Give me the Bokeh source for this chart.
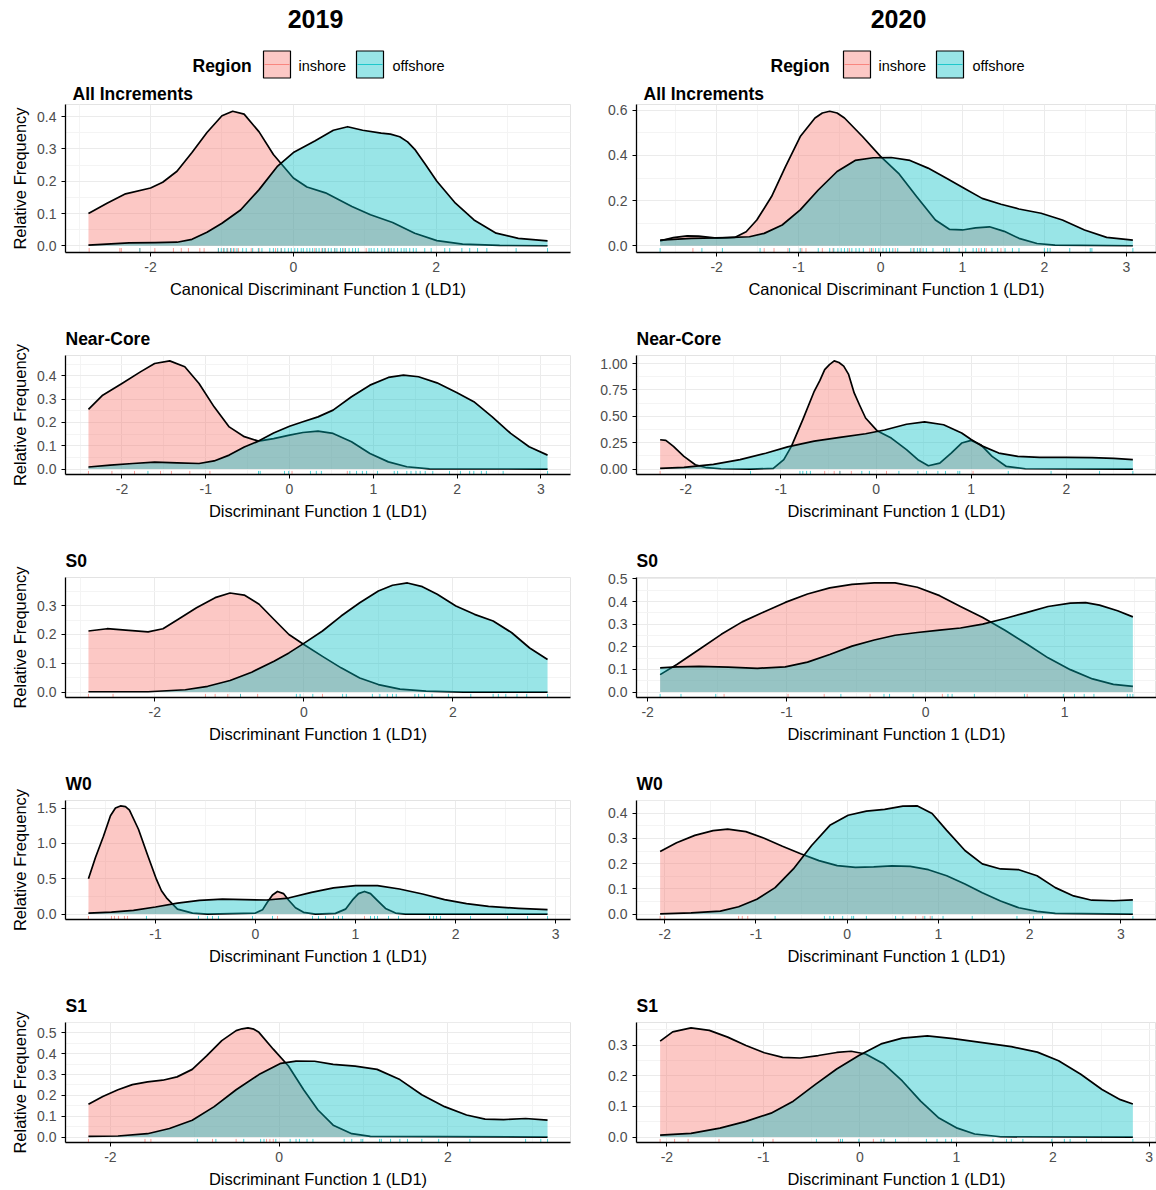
from bokeh.plotting import figure
from bokeh.layouts import column, row
from bokeh.models import Range1d, FixedTicker
from bokeh.core.properties import value
from bokeh.embed import file_html
from bokeh.resources import INLINE

# ---------------- text ----------------
YEARS = ["2019", "2020"]
REGIONS = ["inshore", "offshore"]
LEGEND_TITLE = "Region"
Y_LABEL = "Relative Frequency"
X_LABEL_ALL = "Canonical Discriminant Function 1 (LD1)"
X_LABEL = "Discriminant Function 1 (LD1)"
PANEL_TITLES = ["All Increments", "Near-Core", "S0", "W0", "S1"]

# ---------------- 2019 : All Increments ----------------
ALL19_IN_X = [-2.87, -2.61, -2.35, -2.0, -1.83, -1.63, -1.42, -1.21, -1.0, -0.85, -0.69, -0.48, -0.28, 0.0, 0.19, 0.45, 0.82, 1.08, 1.39, 1.70, 2.01, 2.37, 2.89, 3.56]
ALL19_IN_Y = [0.10, 0.132, 0.161, 0.179, 0.197, 0.231, 0.289, 0.351, 0.403, 0.417, 0.408, 0.353, 0.283, 0.21, 0.182, 0.164, 0.122, 0.096, 0.072, 0.039, 0.016, 0.005, 0.001, 0.0]
ALL19_OFF_X = [-2.87, -2.30, -1.94, -1.63, -1.42, -1.21, -1.0, -0.74, -0.48, -0.22, 0.0, 0.30, 0.56, 0.76, 0.97, 1.23, 1.36, 1.49, 1.60, 1.70, 1.85, 2.01, 2.27, 2.53, 2.84, 3.15, 3.56]
ALL19_OFF_Y = [0.002, 0.009, 0.010, 0.011, 0.02, 0.042, 0.07, 0.111, 0.174, 0.247, 0.289, 0.325, 0.358, 0.369, 0.358, 0.349, 0.346, 0.338, 0.322, 0.299, 0.252, 0.2, 0.132, 0.08, 0.039, 0.023, 0.015]
ALL19_RUG_IN = [-2.86, -2.43, -2.41, -2.15, -1.94, -1.68, -1.57, -1.47, -1.31, -1.25, -1.05, -0.98, -0.92, -0.87, -0.82, -0.77, -0.59, -0.48, -0.25, -0.17, 0.30, 0.40, 0.45, 0.58, 0.71, 1.02, 1.34]
ALL19_RUG_OFF = [-2.15, -1.05, -1.01, -0.97, -0.93, -0.88, -0.84, -0.79, -0.71, -0.66, -0.57, -0.49, -0.44, -0.33, -0.28, -0.22, -0.17, -0.12, -0.07, -0.03, 0.02, 0.06, 0.11, 0.14, 0.19, 0.23, 0.27, 0.32, 0.36, 0.41, 0.44, 0.49, 0.53, 0.58, 0.61, 0.66, 0.69, 0.73, 0.78, 0.83, 0.87, 0.91, 1.06, 1.09, 1.13, 1.18, 1.24, 1.28, 1.33, 1.37, 1.41, 1.46, 1.51, 1.55, 1.58, 1.63, 1.68, 1.72, 1.84, 1.93, 2.12, 2.19, 2.36, 2.47, 2.58, 2.71, 3.12, 3.56]
ALL19_XTICKS = [-2, 0, 2]
ALL19_XLABELS = ["-2", "0", "2"]
ALL19_YTICKS = [0.0, 0.1, 0.2, 0.3, 0.4]
ALL19_YLABELS = ["0.0", "0.1", "0.2", "0.3", "0.4"]

# ---------------- 2020 : All Increments ----------------
ALL20_IN_X = [-2.69, -2.53, -2.36, -2.22, -2.0, -1.78, -1.64, -1.51, -1.33, -1.16, -0.98, -0.80, -0.71, -0.62, -0.53, -0.44, -0.22, 0.0, 0.22, 0.44, 0.67, 0.84, 1.0, 1.16, 1.33, 1.51, 1.69, 1.91, 2.13, 3.08]
ALL20_IN_Y = [0.022, 0.036, 0.044, 0.043, 0.034, 0.037, 0.062, 0.114, 0.218, 0.351, 0.484, 0.566, 0.588, 0.596, 0.588, 0.566, 0.484, 0.396, 0.321, 0.218, 0.114, 0.073, 0.07, 0.079, 0.084, 0.064, 0.033, 0.010, 0.003, 0.0]
ALL20_OFF_X = [-2.69, -2.31, -1.87, -1.6, -1.42, -1.2, -0.98, -0.76, -0.53, -0.31, -0.09, 0.13, 0.36, 0.58, 0.8, 1.02, 1.24, 1.47, 1.69, 1.96, 2.22, 2.49, 2.76, 3.08]
ALL20_OFF_Y = [0.025, 0.033, 0.036, 0.04, 0.055, 0.092, 0.159, 0.247, 0.329, 0.378, 0.39, 0.391, 0.378, 0.344, 0.3, 0.255, 0.21, 0.184, 0.163, 0.144, 0.114, 0.07, 0.037, 0.025]
ALL20_RUG_IN = [-2.29, -1.42, -1.30, -1.13, -0.96, -0.91, -0.71, -0.58, -0.38, -0.13, -0.09, 0.18, 0.40, 0.49, 0.80, 1.20, 1.29, 1.47]
ALL20_RUG_OFF = [-2.69, -2.18, -1.93, -1.47, -1.11, -0.98, -0.76, -0.62, -0.57, -0.52, -0.48, -0.44, -0.40, -0.35, -0.30, -0.26, -0.21, -0.11, -0.06, -0.02, 0.03, 0.07, 0.11, 0.15, 0.21, 0.37, 0.41, 0.45, 0.48, 0.52, 0.56, 0.64, 0.77, 0.81, 0.84, 0.96, 1.04, 1.13, 1.17, 1.23, 1.27, 1.36, 1.43, 1.52, 1.61, 1.69, 2.0, 2.04, 2.07, 2.31, 2.56, 2.58, 3.08]
ALL20_XTICKS = [-2, -1, 0, 1, 2, 3]
ALL20_XLABELS = ["-2", "-1", "0", "1", "2", "3"]
ALL20_YTICKS = [0.0, 0.2, 0.4, 0.6]
ALL20_YLABELS = ["0.0", "0.2", "0.4", "0.6"]

# ---------------- 2019 : Near-Core ----------------
NC19_IN_X = [-2.40, -2.23, -2.0, -1.78, -1.61, -1.43, -1.25, -1.08, -0.90, -0.72, -0.54, -0.37, -0.19, 0.0, 0.16, 0.34, 0.52, 0.74, 0.96, 1.18, 1.40, 1.67, 3.08]
NC19_IN_Y = [0.256, 0.317, 0.367, 0.417, 0.453, 0.464, 0.439, 0.367, 0.267, 0.181, 0.139, 0.12, 0.131, 0.146, 0.157, 0.163, 0.153, 0.117, 0.067, 0.031, 0.01, 0.001, 0.0]
NC19_OFF_X = [-2.40, -2.14, -1.87, -1.61, -1.34, -1.08, -0.90, -0.72, -0.54, -0.37, -0.19, 0.0, 0.16, 0.34, 0.52, 0.74, 0.96, 1.18, 1.36, 1.54, 1.76, 2.0, 2.2, 2.42, 2.64, 2.86, 3.08]
NC19_OFF_Y = [0.009, 0.017, 0.024, 0.03, 0.027, 0.024, 0.035, 0.06, 0.095, 0.12, 0.155, 0.184, 0.203, 0.224, 0.253, 0.31, 0.36, 0.393, 0.403, 0.396, 0.37, 0.327, 0.289, 0.224, 0.153, 0.096, 0.06]
NC19_RUG_IN = [-2.40, -2.12, -1.85, -1.54, -1.41, -1.19, -0.95, 0.03, 0.69]
NC19_RUG_OFF = [-1.69, -0.37, -0.35, -0.06, -0.01, 0.25, 0.32, 0.38, 0.72, 0.80, 0.87, 0.92, 1.05, 1.25, 1.29, 1.40, 1.45, 1.51, 1.56, 1.62, 1.71, 1.91, 2.04, 2.15, 2.20, 2.29, 2.35, 2.55, 3.08]
NC19_XTICKS = [-2, -1, 0, 1, 2, 3]
NC19_XLABELS = ["-2", "-1", "0", "1", "2", "3"]
NC19_YTICKS = [0.0, 0.1, 0.2, 0.3, 0.4]
NC19_YLABELS = ["0.0", "0.1", "0.2", "0.3", "0.4"]

# ---------------- 2020 : Near-Core ----------------
NC20_IN_X = [-2.27, -2.21, -2.13, -2.02, -1.90, -1.78, -1.63, -1.32, -1.08, -0.97, -0.89, -0.77, -0.65, -0.59, -0.54, -0.49, -0.44, -0.39, -0.34, -0.29, -0.23, -0.17, -0.11, 0.01, 0.16, 0.32, 0.44, 0.55, 0.67, 0.79, 0.90, 1.0, 1.10, 1.22, 1.37, 1.57, 2.70]
NC20_IN_Y = [0.278, 0.272, 0.215, 0.12, 0.041, 0.013, 0.003, 0.0, 0.006, 0.089, 0.215, 0.468, 0.737, 0.84, 0.943, 0.99, 1.025, 1.01, 0.975, 0.90, 0.722, 0.60, 0.484, 0.364, 0.294, 0.184, 0.089, 0.032, 0.057, 0.152, 0.247, 0.272, 0.231, 0.12, 0.025, 0.003, 0.0]
NC20_OFF_X = [-2.27, -2.02, -1.71, -1.43, -1.16, -0.93, -0.65, -0.38, -0.11, 0.09, 0.32, 0.51, 0.71, 0.90, 1.0, 1.10, 1.29, 1.49, 1.72, 2.0, 2.27, 2.50, 2.70]
NC20_OFF_Y = [0.006, 0.016, 0.045, 0.09, 0.15, 0.21, 0.265, 0.30, 0.335, 0.37, 0.425, 0.447, 0.42, 0.342, 0.28, 0.225, 0.152, 0.12, 0.111, 0.111, 0.108, 0.101, 0.089]
NC20_RUG_IN = [-2.27, -0.54, -0.44, -0.38, -0.26, 0.11, 1.02]
NC20_RUG_OFF = [-1.32, -0.80, -0.77, -0.73, -0.69, -0.38, -0.15, -0.07, 0.24, 0.44, 0.53, 0.65, 0.73, 0.86, 0.88, 1.39, 1.84, 2.35, 2.70]
NC20_XTICKS = [-2, -1, 0, 1, 2]
NC20_XLABELS = ["-2", "-1", "0", "1", "2"]
NC20_YTICKS = [0.0, 0.25, 0.5, 0.75, 1.0]
NC20_YLABELS = ["0.00", "0.25", "0.50", "0.75", "1.00"]

# ---------------- 2019 : S0 ----------------
S019_IN_X = [-2.89, -2.64, -2.39, -2.09, -1.89, -1.69, -1.44, -1.19, -0.99, -0.80, -0.60, -0.40, -0.20, 0.0, 0.25, 0.50, 0.75, 1.0, 1.29, 1.64, 2.14, 3.27]
S019_IN_Y = [0.212, 0.22, 0.215, 0.209, 0.22, 0.252, 0.293, 0.328, 0.344, 0.337, 0.305, 0.252, 0.2, 0.165, 0.124, 0.084, 0.049, 0.026, 0.01, 0.003, 0.0, 0.0]
S019_OFF_X = [-2.89, -2.09, -1.59, -1.29, -0.99, -0.70, -0.40, -0.20, 0.0, 0.25, 0.50, 0.75, 1.0, 1.19, 1.39, 1.59, 1.79, 2.04, 2.29, 2.54, 2.79, 3.03, 3.27]
S019_OFF_Y = [0.001, 0.001, 0.008, 0.02, 0.04, 0.069, 0.107, 0.136, 0.169, 0.212, 0.264, 0.31, 0.351, 0.371, 0.379, 0.366, 0.34, 0.299, 0.27, 0.247, 0.206, 0.153, 0.113]
S019_RUG_IN = [-2.89, -2.56, -1.32, -1.19, -1.02, -0.85, -0.62, 0.25]
S019_RUG_OFF = [-0.85, -0.10, -0.05, 0.12, 0.52, 0.57, 0.92, 1.02, 1.12, 1.19, 1.24, 1.49, 1.54, 1.62, 1.72, 1.94, 2.24, 2.54, 2.61, 2.71, 2.86, 2.99, 3.27]
S019_XTICKS = [-2, 0, 2]
S019_XLABELS = ["-2", "0", "2"]
S019_YTICKS = [0.0, 0.1, 0.2, 0.3]
S019_YLABELS = ["0.0", "0.1", "0.2", "0.3"]

# ---------------- 2020 : S0 ----------------
S020_IN_X = [-1.91, -1.79, -1.63, -1.47, -1.32, -1.16, -1.01, -0.85, -0.69, -0.53, -0.37, -0.22, -0.06, 0.10, 0.25, 0.41, 0.57, 0.73, 0.88, 1.04, 1.20, 1.35, 1.49]
S020_IN_Y = [0.077, 0.122, 0.188, 0.255, 0.31, 0.355, 0.396, 0.433, 0.46, 0.476, 0.482, 0.482, 0.463, 0.426, 0.378, 0.329, 0.273, 0.211, 0.151, 0.099, 0.058, 0.034, 0.025]
S020_OFF_X = [-1.91, -1.79, -1.63, -1.42, -1.21, -1.01, -0.85, -0.69, -0.53, -0.37, -0.22, -0.06, 0.10, 0.25, 0.41, 0.57, 0.73, 0.88, 1.04, 1.15, 1.25, 1.38, 1.49]
S020_OFF_Y = [0.107, 0.111, 0.113, 0.11, 0.105, 0.111, 0.132, 0.166, 0.203, 0.23, 0.251, 0.263, 0.274, 0.283, 0.3, 0.325, 0.352, 0.378, 0.393, 0.395, 0.384, 0.359, 0.332]
S020_RUG_IN = [-1.45, -0.99, -0.73, -0.40, 0.12, 0.73]
S020_RUG_OFF = [-1.91, -1.76, -1.51, -0.61, -0.30, -0.26, -0.09, 0.16, 0.19, 0.35, 0.71, 0.99, 1.07, 1.14, 1.21, 1.45, 1.47, 1.49]
S020_XTICKS = [-2, -1, 0, 1]
S020_XLABELS = ["-2", "-1", "0", "1"]
S020_YTICKS = [0.0, 0.1, 0.2, 0.3, 0.4, 0.5]
S020_YLABELS = ["0.0", "0.1", "0.2", "0.3", "0.4", "0.5"]

# ---------------- 2019 : W0 ----------------
W019_IN_X = [-1.67, -1.60, -1.52, -1.45, -1.40, -1.35, -1.30, -1.26, -1.17, -1.08, -0.99, -0.94, -0.89, -0.78, -0.63, -0.48, 0.0, 0.07, 0.12, 0.17, 0.22, 0.28, 0.33, 0.40, 0.48, 0.60, 0.80, 0.90, 0.97, 1.03, 1.09, 1.15, 1.22, 1.30, 1.40, 1.50, 2.92]
W019_IN_Y = [0.50, 0.80, 1.10, 1.39, 1.50, 1.53, 1.52, 1.47, 1.20, 0.84, 0.49, 0.33, 0.23, 0.07, 0.014, 0.0, 0.014, 0.06, 0.17, 0.27, 0.32, 0.29, 0.20, 0.09, 0.025, 0.0, 0.01, 0.07, 0.20, 0.29, 0.32, 0.29, 0.19, 0.08, 0.015, 0.0, 0.0]
W019_OFF_X = [-1.67, -1.44, -1.22, -1.0, -0.78, -0.56, -0.33, -0.11, 0.11, 0.33, 0.56, 0.78, 1.0, 1.22, 1.44, 1.67, 1.89, 2.11, 2.33, 2.63, 2.92]
W019_OFF_Y = [0.014, 0.028, 0.052, 0.1, 0.156, 0.194, 0.213, 0.204, 0.199, 0.227, 0.308, 0.37, 0.403, 0.403, 0.355, 0.284, 0.204, 0.147, 0.109, 0.081, 0.062]
W019_RUG_IN = [-1.67, -1.44, -1.41, -1.37, -1.31, -1.28, 0.22, 1.09]
W019_RUG_OFF = [-1.09, -0.57, -0.48, -0.43, -0.37, -0.03, 0.17, 0.57, 0.63, 0.70, 0.78, 0.83, 0.87, 1.15, 1.19, 1.22, 1.33, 1.43, 1.74, 1.78, 1.81, 1.85, 2.15, 2.52, 2.72, 2.92]
W019_XTICKS = [-1, 0, 1, 2, 3]
W019_XLABELS = ["-1", "0", "1", "2", "3"]
W019_YTICKS = [0.0, 0.5, 1.0, 1.5]
W019_YLABELS = ["0.0", "0.5", "1.0", "1.5"]

# ---------------- 2020 : W0 ----------------
W020_IN_X = [-2.05, -1.87, -1.67, -1.47, -1.31, -1.11, -0.91, -0.71, -0.51, -0.31, -0.11, 0.09, 0.29, 0.49, 0.69, 0.89, 1.09, 1.29, 1.48, 1.68, 1.88, 2.08, 2.28, 3.13]
W020_IN_Y = [0.248, 0.283, 0.312, 0.331, 0.337, 0.327, 0.301, 0.269, 0.239, 0.212, 0.192, 0.185, 0.187, 0.191, 0.189, 0.176, 0.152, 0.119, 0.085, 0.052, 0.025, 0.011, 0.003, 0.0]
W020_OFF_X = [-2.05, -1.71, -1.39, -1.19, -0.99, -0.79, -0.59, -0.39, -0.19, 0.01, 0.21, 0.41, 0.61, 0.77, 0.93, 1.09, 1.29, 1.48, 1.68, 1.88, 2.08, 2.28, 2.48, 2.68, 2.92, 3.13]
W020_OFF_Y = [0.001, 0.005, 0.012, 0.029, 0.059, 0.105, 0.179, 0.272, 0.352, 0.392, 0.408, 0.415, 0.428, 0.429, 0.399, 0.332, 0.252, 0.199, 0.179, 0.176, 0.152, 0.105, 0.072, 0.055, 0.053, 0.056]
W020_RUG_IN = [-2.05, -2.0, -1.19, -1.15, -1.09, 0.75, 0.83, 0.91]
W020_RUG_OFF = [-0.79, -0.25, -0.19, -0.15, -0.05, 0.05, 0.07, 0.21, 0.53, 0.61, 0.85, 0.93, 1.05, 1.37, 1.86, 2.04, 2.14, 3.13]
W020_XTICKS = [-2, -1, 0, 1, 2, 3]
W020_XLABELS = ["-2", "-1", "0", "1", "2", "3"]
W020_YTICKS = [0.0, 0.1, 0.2, 0.3, 0.4]
W020_YLABELS = ["0.0", "0.1", "0.2", "0.3", "0.4"]

# ---------------- 2019 : S1 ----------------
S119_IN_X = [-2.26, -2.09, -1.91, -1.74, -1.56, -1.38, -1.21, -1.03, -0.86, -0.68, -0.51, -0.44, -0.37, -0.30, -0.24, -0.07, 0.11, 0.29, 0.46, 0.64, 0.86, 1.08, 3.18]
S119_IN_Y = [0.157, 0.195, 0.227, 0.252, 0.265, 0.273, 0.289, 0.325, 0.39, 0.463, 0.511, 0.52, 0.524, 0.518, 0.503, 0.422, 0.341, 0.227, 0.13, 0.057, 0.016, 0.003, 0.0]
S119_OFF_X = [-2.26, -1.91, -1.56, -1.30, -1.03, -0.77, -0.51, -0.24, 0.02, 0.20, 0.42, 0.64, 0.90, 1.16, 1.43, 1.69, 1.96, 2.22, 2.44, 2.66, 2.92, 3.18]
S119_OFF_Y = [0.003, 0.005, 0.016, 0.041, 0.081, 0.146, 0.227, 0.3, 0.354, 0.365, 0.364, 0.349, 0.341, 0.325, 0.276, 0.203, 0.146, 0.106, 0.086, 0.084, 0.089, 0.081]
S119_RUG_IN = [-2.26, -1.59, -1.52, -0.79, -0.51, -0.15, -0.11, -0.07]
S119_RUG_OFF = [-0.97, -0.75, -0.42, -0.22, -0.18, -0.04, 0.13, 0.20, 0.24, 0.33, 0.40, 0.77, 0.86, 0.97, 0.99, 1.19, 1.21, 1.32, 1.43, 1.52, 1.69, 1.89, 2.26, 2.92, 3.10, 3.18]
S119_XTICKS = [-2, 0, 2]
S119_XLABELS = ["-2", "0", "2"]
S119_YTICKS = [0.0, 0.1, 0.2, 0.3, 0.4, 0.5]
S119_YLABELS = ["0.0", "0.1", "0.2", "0.3", "0.4", "0.5"]

# ---------------- 2020 : S1 ----------------
S120_IN_X = [-2.07, -1.94, -1.75, -1.56, -1.37, -1.18, -0.99, -0.80, -0.62, -0.43, -0.24, -0.09, 0.06, 0.25, 0.44, 0.63, 0.82, 1.01, 1.19, 1.46, 2.83]
S120_IN_Y = [0.313, 0.343, 0.356, 0.348, 0.326, 0.299, 0.275, 0.26, 0.258, 0.266, 0.276, 0.28, 0.271, 0.238, 0.183, 0.117, 0.062, 0.029, 0.01, 0.001, 0.0]
S120_OFF_X = [-2.07, -1.75, -1.45, -1.18, -0.92, -0.69, -0.46, -0.24, -0.01, 0.22, 0.44, 0.70, 0.97, 1.27, 1.57, 1.84, 2.06, 2.29, 2.51, 2.70, 2.83]
S120_OFF_Y = [0.006, 0.012, 0.029, 0.051, 0.078, 0.117, 0.172, 0.222, 0.266, 0.304, 0.323, 0.33, 0.321, 0.308, 0.295, 0.277, 0.249, 0.205, 0.155, 0.122, 0.108]
S120_RUG_IN = [-2.07, -1.92, -1.78, -1.46, -0.90, -0.22, 0.14, 0.25]
S120_RUG_OFF = [-1.11, -0.45, -0.20, -0.18, -0.01, 0.22, 0.25, 0.37, 0.69, 0.80, 0.89, 0.95, 1.38, 1.52, 1.57, 1.69, 1.99, 2.12, 2.18, 2.35, 2.83]
S120_XTICKS = [-2, -1, 0, 1, 2, 3]
S120_XLABELS = ["-2", "-1", "0", "1", "2", "3"]
S120_YTICKS = [0.0, 0.1, 0.2, 0.3]
S120_YLABELS = ["0.0", "0.1", "0.2", "0.3"]

PANELS = [
    [  # 2019 column
        (ALL19_IN_X, ALL19_IN_Y, ALL19_OFF_X, ALL19_OFF_Y, ALL19_RUG_IN, ALL19_RUG_OFF, ALL19_XTICKS, ALL19_XLABELS, ALL19_YTICKS, ALL19_YLABELS),
        (NC19_IN_X, NC19_IN_Y, NC19_OFF_X, NC19_OFF_Y, NC19_RUG_IN, NC19_RUG_OFF, NC19_XTICKS, NC19_XLABELS, NC19_YTICKS, NC19_YLABELS),
        (S019_IN_X, S019_IN_Y, S019_OFF_X, S019_OFF_Y, S019_RUG_IN, S019_RUG_OFF, S019_XTICKS, S019_XLABELS, S019_YTICKS, S019_YLABELS),
        (W019_IN_X, W019_IN_Y, W019_OFF_X, W019_OFF_Y, W019_RUG_IN, W019_RUG_OFF, W019_XTICKS, W019_XLABELS, W019_YTICKS, W019_YLABELS),
        (S119_IN_X, S119_IN_Y, S119_OFF_X, S119_OFF_Y, S119_RUG_IN, S119_RUG_OFF, S119_XTICKS, S119_XLABELS, S119_YTICKS, S119_YLABELS),
    ],
    [  # 2020 column
        (ALL20_IN_X, ALL20_IN_Y, ALL20_OFF_X, ALL20_OFF_Y, ALL20_RUG_IN, ALL20_RUG_OFF, ALL20_XTICKS, ALL20_XLABELS, ALL20_YTICKS, ALL20_YLABELS),
        (NC20_IN_X, NC20_IN_Y, NC20_OFF_X, NC20_OFF_Y, NC20_RUG_IN, NC20_RUG_OFF, NC20_XTICKS, NC20_XLABELS, NC20_YTICKS, NC20_YLABELS),
        (S020_IN_X, S020_IN_Y, S020_OFF_X, S020_OFF_Y, S020_RUG_IN, S020_RUG_OFF, S020_XTICKS, S020_XLABELS, S020_YTICKS, S020_YLABELS),
        (W020_IN_X, W020_IN_Y, W020_OFF_X, W020_OFF_Y, W020_RUG_IN, W020_RUG_OFF, W020_XTICKS, W020_XLABELS, W020_YTICKS, W020_YLABELS),
        (S120_IN_X, S120_IN_Y, S120_OFF_X, S120_OFF_Y, S120_RUG_IN, S120_RUG_OFF, S120_XTICKS, S120_XLABELS, S120_YTICKS, S120_YLABELS),
    ],
]

# ---------------- styling / layout ----------------
FONT = "Liberation Sans"
COL_IN = "#F8766D"
COL_OFF = "#00BFC4"
FILL_ALPHA = 0.4
GRID_MAJOR = "#EBEBEB"
GRID_MINOR = "#F4F4F4"
TICK_COLOR = "#4D4D4D"

HEADER_H = 80
ROW_H = [230, 222, 223, 222, 213]
ROW_TOP = [24, 45, 45, 45, 45]
ROW_BOTTOM = [58, 58, 58, 58, 48]
ROW_TITLE_OFFSET = [7, 0, 0, 0, 0]
ROW_TITLE_STANDOFF = [2, 14, 14, 14, 14]
COL_W = [580, 576]
COL_LEFT = [65, 56]
COL_RIGHT = [10, 0]

# header positions (pixels from the column's left / top edge)
YEAR_X = [315, 318]
YEAR_Y = 18
LEGEND_Y = 64
REGION_TITLE_X = [192, 190]
KEY_LEFT = [263, 356]
KEY_SIZE = 27
LABEL_X = [298, 392]


def minor_of(major, lo, hi):
    step = major[1] - major[0]
    ext = [major[0] - step] + list(major) + [major[-1] + step]
    mids = [(a + b) / 2 for a, b in zip(ext[:-1], ext[1:])]
    return [m for m in mids if lo <= m <= hi]


def make_panel(ci, ri, spec):
    xin, yin, xoff, yoff, rin, roff, xt, xl, yt, yl = spec
    xmin = min(min(xin), min(xoff))
    xmax = max(max(xin), max(xoff))
    xpad = 0.05 * (xmax - xmin)
    ymax = max(max(yin), max(yoff))
    y0, y1 = -0.05 * ymax, 1.05 * ymax
    x0, x1 = xmin - xpad, xmax + xpad

    p = figure(width=COL_W[ci], height=ROW_H[ri],
               x_range=Range1d(x0, x1), y_range=Range1d(y0, y1),
               output_backend="svg", toolbar_location=None,
               min_border_left=COL_LEFT[ci], min_border_right=COL_RIGHT[ci],
               min_border_top=ROW_TOP[ri], min_border_bottom=ROW_BOTTOM[ri],
               background_fill_color="white", border_fill_color="white",
               outline_line_color="#E3E3E3", outline_line_width=1,
               title=PANEL_TITLES[ri])
    p.title.text_font = FONT
    p.title.text_font_style = "bold"
    p.title.text_font_size = "17.5px"
    p.title.text_color = "black"
    p.title.offset = ROW_TITLE_OFFSET[ri]
    p.title.standoff = ROW_TITLE_STANDOFF[ri]

    p.xaxis.ticker = FixedTicker(ticks=xt, minor_ticks=minor_of(xt, x0, x1))
    p.yaxis.ticker = FixedTicker(ticks=yt, minor_ticks=minor_of(yt, y0, y1))
    p.xaxis.major_label_overrides = {t: s for t, s in zip(xt, xl)}
    p.yaxis.major_label_overrides = {t: s for t, s in zip(yt, yl)}

    for ax in (p.xaxis[0], p.yaxis[0]):
        ax.axis_line_color = "black"
        ax.axis_line_width = 1.3
        ax.major_tick_line_color = "black"
        ax.major_tick_line_width = 1
        ax.major_tick_out = 4
        ax.major_tick_in = 0
        ax.minor_tick_line_color = None
        ax.major_label_text_font = FONT
        ax.major_label_text_font_size = "14px"
        ax.major_label_text_color = TICK_COLOR
        ax.major_label_standoff = 5
        ax.axis_label_text_font = FONT
        ax.axis_label_text_font_size = "16.5px"
        ax.axis_label_text_font_style = "normal"
        ax.axis_label_text_color = "black"

    p.xaxis.axis_label = X_LABEL_ALL if ri == 0 else X_LABEL
    p.xaxis.axis_label_standoff = 5
    if ci == 0:
        p.yaxis.axis_label = Y_LABEL
        p.yaxis.axis_label_standoff = 5

    for g in (p.xgrid[0], p.ygrid[0]):
        g.grid_line_color = GRID_MAJOR
        g.grid_line_width = 1
        g.minor_grid_line_color = GRID_MINOR
        g.minor_grid_line_width = 1

    # inshore first, then offshore on top (fill + upper outline each)
    p.varea(x=xin, y1=[0] * len(xin), y2=yin, fill_color=COL_IN, fill_alpha=FILL_ALPHA)
    p.line(x=xin, y=yin, line_color="black", line_width=1.7, line_join="round")
    p.varea(x=xoff, y1=[0] * len(xoff), y2=yoff, fill_color=COL_OFF, fill_alpha=FILL_ALPHA)
    p.line(x=xoff, y=yoff, line_color="black", line_width=1.7, line_join="round")

    rug_top = y0 + 0.03 * (y1 - y0)
    p.segment(x0=rin, y0=[y0] * len(rin), x1=rin, y1=[rug_top] * len(rin),
              line_color=COL_IN, line_alpha=0.7, line_width=1)
    p.segment(x0=roff, y0=[y0] * len(roff), x1=roff, y1=[rug_top] * len(roff),
              line_color=COL_OFF, line_alpha=0.7, line_width=1)
    return p


def make_header(ci):
    W = COL_W[ci]
    L = COL_LEFT[ci]
    R = COL_RIGHT[ci]
    # frame is aligned with the panels' frames; x measured from the column's left edge
    h = figure(width=W, height=HEADER_H, x_range=Range1d(L, W - R), y_range=Range1d(HEADER_H, 0),
               output_backend="svg", toolbar_location=None,
               min_border_left=L, min_border_right=R, min_border_top=0, min_border_bottom=0,
               x_axis_location=None, y_axis_location=None, outline_line_color=None,
               background_fill_color="white", border_fill_color="white")
    h.xgrid.visible = False
    h.ygrid.visible = False
    h.text(x=[YEAR_X[ci]], y=[YEAR_Y], text=[YEARS[ci]], text_align="center", text_baseline="middle",
           text_font=value(FONT), text_font_style="bold", text_font_size="25px", text_color="black")
    h.text(x=[REGION_TITLE_X[ci]], y=[LEGEND_Y + 1], text=[LEGEND_TITLE], text_align="left", text_baseline="middle",
           text_font=value(FONT), text_font_style="bold", text_font_size="17.5px", text_color="black")
    for k, (col, lab) in enumerate(zip([COL_IN, COL_OFF], REGIONS)):
        cx = KEY_LEFT[k] + KEY_SIZE / 2
        h.rect(x=[cx], y=[LEGEND_Y], width=KEY_SIZE, height=KEY_SIZE, fill_color=col, fill_alpha=FILL_ALPHA,
               line_color="black", line_width=1.2)
        h.segment(x0=[KEY_LEFT[k] + 1], y0=[LEGEND_Y], x1=[KEY_LEFT[k] + KEY_SIZE - 1], y1=[LEGEND_Y],
                  line_color=col, line_width=1.2, line_alpha=0.8)
        h.text(x=[LABEL_X[k]], y=[LEGEND_Y + 1], text=[lab], text_align="left", text_baseline="middle",
               text_font=value(FONT), text_font_size="14.5px", text_color="black")
    return h


cols = []
for ci in range(2):
    items = [make_header(ci)] + [make_panel(ci, ri, PANELS[ci][ri]) for ri in range(5)]
    cols.append(column(*items, spacing=0))

layout = row(*cols, spacing=0)

open("out.html", "w").write(file_html(layout, INLINE))
